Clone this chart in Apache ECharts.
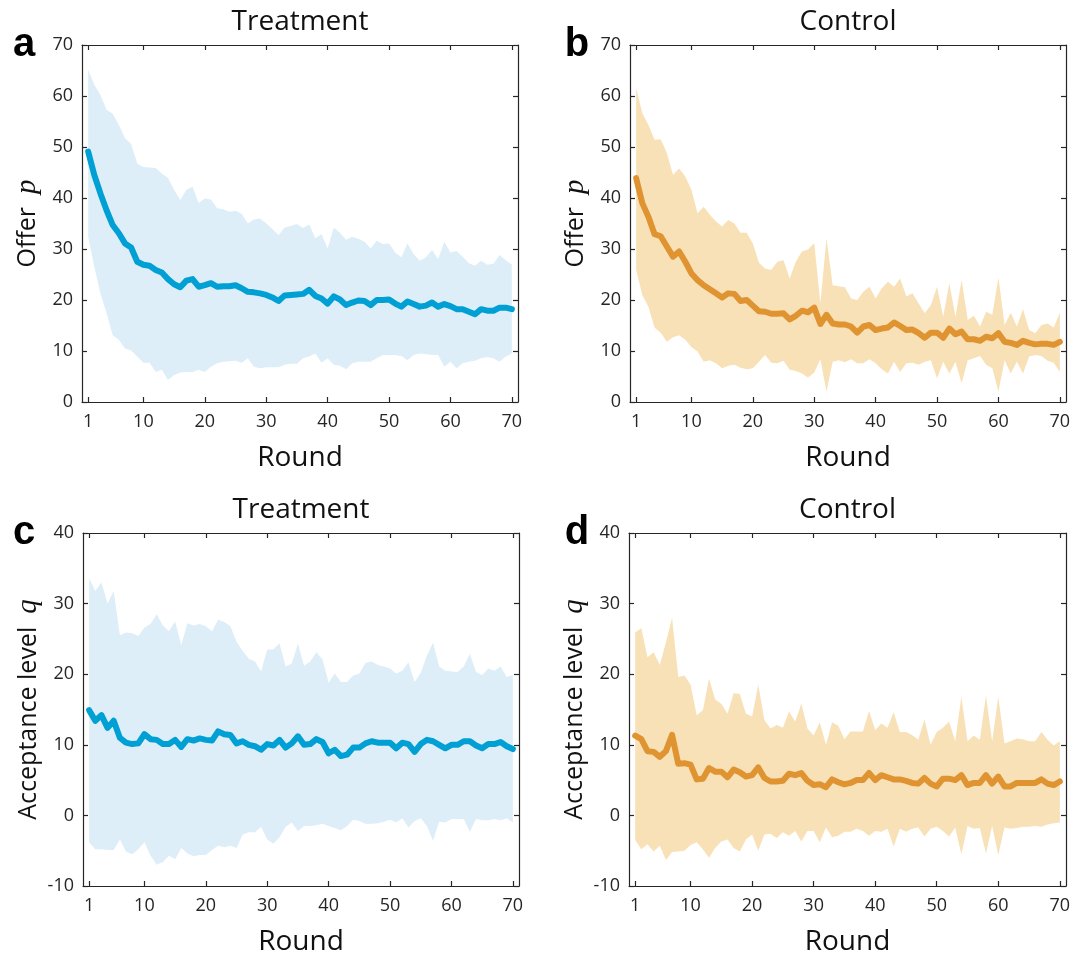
<!DOCTYPE html>
<html>
<head>
<meta charset="utf-8">
<title>Offers and acceptance levels by round</title>
<script src="https://cdn.jsdelivr.net/npm/echarts@6/dist/echarts.min.js"></script>
<style>
  html, body { margin: 0; padding: 0; background: #fff; }
  #chart { width: 1084px; height: 957px; }
</style>
</head>
<body>
<div id="chart"></div>
<script>
// Rounds 1..70 and the tick positions shown on every x axis
const rounds = Array.from({ length: 70 }, (_, i) => i + 1);
const roundTicks = [1, 10, 20, 30, 40, 50, 60, 70];

// Offer p, Treatment: mean and the shaded band (upper / lower)
const treatOfferMean = [
  49.1,44.5,40.9,37.6,34.7,33.1,31.1,30.3,27.5,26.9,
  26.7,25.9,25.4,24.1,23.1,22.5,23.8,24.1,22.6,22.9,
  23.3,22.6,22.7,22.7,22.9,22.3,21.6,21.5,21.3,21.0,
  20.5,19.8,20.9,21.0,21.1,21.2,22.0,20.8,20.3,19.3,
  20.7,20.1,19.0,19.5,19.9,19.8,19.0,20.0,20.0,20.1,
  19.3,18.7,19.7,19.2,18.7,18.9,19.5,18.7,19.2,18.8,
  18.2,18.2,17.7,17.2,18.2,17.9,17.9,18.5,18.5,18.2];
const treatOfferUpper = [
  65.2,62.2,60.2,57.3,56.5,54.3,51.7,50.6,46.7,46.1,
  46.0,45.9,44.8,43.9,41.6,39.6,41.6,42.2,39.0,39.9,
  39.7,38.0,37.8,37.3,37.5,36.9,35.0,35.8,36.0,35.0,
  33.9,32.7,34.2,34.5,34.9,34.1,34.8,32.1,32.9,30.1,
  34.2,33.2,31.8,32.4,32.0,31.4,30.1,31.6,31.0,31.1,
  29.3,28.4,31.1,29.0,27.7,28.4,29.8,28.0,31.4,29.3,
  29.6,28.5,27.2,26.7,27.7,26.9,27.1,28.8,27.8,26.9];
const treatOfferLower = [
  32.4,26.5,21.3,17.4,13.1,12.2,10.5,10.1,8.9,7.7,
  7.7,5.9,6.3,4.3,5.3,5.8,5.9,5.9,6.3,5.9,
  6.9,7.6,7.9,8.0,8.1,7.7,8.6,6.9,6.6,6.8,
  6.8,6.8,7.3,7.5,7.5,8.6,8.9,9.5,7.7,8.6,
  7.3,7.1,6.4,7.6,7.9,7.9,7.9,8.6,9.2,9.2,
  9.2,9.0,8.2,9.2,9.5,9.4,9.2,9.2,6.9,7.9,
  6.6,7.6,7.9,8.1,8.6,8.8,8.6,7.9,8.9,9.5];

// Offer p, Control
const ctrlOfferMean = [
  43.9,39.0,36.3,32.9,32.5,30.5,28.5,29.5,27.5,25.2,
  23.9,22.9,22.1,21.3,20.5,21.3,21.2,19.8,20.0,18.9,
  17.8,17.7,17.3,17.3,17.4,16.2,16.9,17.9,17.6,18.5,
  15.3,17.1,15.4,15.2,15.2,14.8,13.6,14.8,15.1,14.1,
  14.4,14.6,15.6,14.9,14.1,14.2,13.5,12.6,13.6,13.6,
  12.6,14.4,13.3,13.8,12.3,12.3,12.0,12.8,12.5,13.5,
  11.8,11.6,11.2,12.0,11.6,11.3,11.4,11.4,11.2,11.8];
const ctrlOfferUpper = [
  61.6,56.6,54.3,51.4,51.5,48.8,44.5,45.8,44.2,41.6,
  37.0,38.3,36.7,35.4,34.4,35.7,35.0,33.2,33.2,31.1,
  27.3,26.2,25.9,27.5,27.8,24.2,27.5,29.5,29.9,31.2,
  19.3,32.1,22.9,22.7,22.5,20.3,20.0,21.6,22.6,20.3,
  22.3,23.6,22.6,24.2,20.7,21.3,19.3,17.4,19.0,22.6,
  16.7,23.3,16.7,23.9,16.1,16.9,14.8,17.7,17.1,24.4,
  15.1,17.5,14.8,18.2,14.1,13.5,15.1,15.4,14.6,17.5];
const ctrlOfferLower = [
  26.0,21.0,18.7,14.6,13.6,11.8,12.7,13.1,12.2,10.8,
  9.9,7.9,8.2,7.6,6.6,7.1,7.3,6.7,6.4,6.6,
  7.9,9.2,7.7,7.6,8.1,6.3,6.1,5.6,4.8,5.8,
  8.4,2.0,7.9,8.2,7.8,8.4,7.6,7.6,8.4,7.6,
  6.4,5.6,7.9,5.9,7.6,7.7,7.3,7.9,8.2,4.6,
  7.9,5.6,7.9,3.7,8.2,8.6,9.0,7.3,6.6,2.0,
  8.2,5.6,7.9,5.6,8.9,9.2,9.0,8.1,7.7,5.9];

// Acceptance level q, Treatment
const treatAccMean = [
  14.9,13.4,14.2,12.4,13.4,11.0,10.3,10.1,10.2,11.5,
  10.8,10.7,10.1,10.1,10.7,9.7,10.8,10.6,10.9,10.7,
  10.6,11.9,11.5,11.4,10.2,10.5,10.0,9.8,9.3,10.1,
  9.9,10.7,9.6,10.2,11.2,10.0,10.1,10.8,10.4,8.8,
  9.3,8.4,8.6,9.6,9.6,10.2,10.5,10.3,10.3,10.3,
  9.5,10.3,10.1,9.0,10.1,10.7,10.5,10.0,9.5,10.0,
  10.0,10.5,10.5,9.9,9.5,10.1,10.1,10.4,9.8,9.4];
const treatAccUpper = [
  33.6,31.8,33.0,30.0,31.8,25.5,25.9,25.8,25.4,26.6,
  27.1,28.5,26.9,26.1,27.5,24.1,27.2,26.9,27.1,26.8,
  26.1,27.7,27.4,26.8,24.6,23.3,22.2,21.8,20.4,23.5,
  23.5,24.4,21.1,21.5,24.3,21.2,21.8,23.1,22.1,18.8,
  20.1,18.9,18.9,19.8,20.1,21.6,21.8,21.3,21.1,20.8,
  20.1,20.5,21.7,18.9,20.2,22.6,24.5,21.1,20.5,20.4,
  20.3,21.1,22.9,20.3,19.9,20.8,20.5,21.1,19.6,19.9];
const treatAccLower = [
  -3.8,-4.8,-4.8,-4.9,-4.9,-3.4,-5.1,-5.5,-4.8,-3.8,
  -5.7,-7.0,-6.6,-5.7,-6.2,-4.6,-5.4,-5.8,-5.6,-5.6,
  -4.9,-4.3,-4.5,-4.3,-4.6,-2.7,-2.4,-2.4,-1.6,-3.4,
  -4.0,-3.1,-1.6,-1.0,-2.2,-1.5,-1.5,-1.4,-1.2,-1.5,
  -1.8,-2.1,-1.5,-0.6,-0.8,-1.2,-1.2,-1.1,-0.9,-0.6,
  -1.0,-0.4,-1.7,-0.8,-0.4,-1.5,-3.6,-0.9,-1.0,-0.5,
  -0.5,-0.5,-2.3,-0.5,-0.7,-0.7,-0.5,-0.7,-0.4,-1.0];

// Acceptance level q, Control
const ctrlAccMean = [
  11.3,10.8,9.1,9.0,8.3,9.1,11.4,7.3,7.4,7.2,
  5.1,5.2,6.7,6.2,6.2,5.4,6.5,6.1,5.5,5.7,
  6.8,5.3,4.8,4.8,4.9,5.9,5.7,6.0,4.9,4.3,
  4.4,4.0,5.1,4.7,4.4,4.6,5.0,5.0,6.0,5.0,
  5.7,5.4,5.1,5.1,4.9,4.6,4.5,5.3,4.5,4.1,
  5.2,5.2,5.0,5.7,4.3,4.6,4.6,5.7,4.5,5.5,
  4.1,4.1,4.6,4.6,4.6,4.6,5.1,4.5,4.3,4.8];
const ctrlAccUpper = [
  25.9,26.5,22.4,23.1,21.3,24.5,28.0,19.6,19.8,18.5,
  14.2,14.9,19.4,16.4,15.8,14.4,17.3,17.2,14.4,14.0,
  18.5,13.5,12.3,12.8,12.4,14.7,13.3,15.8,12.3,11.3,
  13.2,10.0,13.2,12.7,10.8,11.9,11.9,11.9,14.8,12.1,
  13.0,12.4,14.6,11.8,11.8,11.4,10.7,13.6,10.0,11.8,
  12.4,13.3,10.5,16.8,10.5,11.3,10.7,17.0,10.5,16.8,
  10.2,10.5,10.9,10.8,10.5,10.5,11.8,10.7,9.9,10.5];
const ctrlAccLower = [
  -3.5,-4.8,-4.1,-5.1,-4.3,-6.3,-5.2,-5.1,-5.0,-4.2,
  -3.8,-4.8,-6.0,-4.6,-3.7,-3.4,-4.6,-5.1,-3.4,-2.7,
  -5.0,-2.7,-2.6,-3.2,-2.4,-2.9,-2.2,-3.7,-2.2,-2.2,
  -3.8,-1.7,-3.1,-2.9,-2.3,-2.3,-1.9,-2.2,-2.9,-2.2,
  -2.3,-1.9,-4.4,-1.9,-2.3,-1.9,-1.7,-3.0,-1.9,-1.6,
  -2.2,-3.0,-1.7,-5.5,-1.5,-1.9,-1.8,-5.4,-1.5,-5.6,
  -1.7,-1.9,-1.8,-1.6,-1.6,-1.5,-1.6,-1.3,-1.1,-1.0];

// Panel titles, letters and y-axis labels
const panelTitles = ['Treatment', 'Control', 'Treatment', 'Control'];
const panelLetters = ['a', 'b', 'c', 'd'];
const yNames = ['Offer', 'Offer', 'Acceptance level', 'Acceptance level'];
const ySymbols = ['p', 'p', 'q', 'q'];

// ---- styling and layout ----
const FONT = '"Open Sans", "Noto Sans", sans-serif';
const AXIS_COLOR = '#262626';
const BLUE = '#009fd4';
const BLUE_BAND = '#ddeef8';
const ORANGE = '#df9431';
const ORANGE_BAND = '#f8e1b6';

const panels = [
  { mean: treatOfferMean, upper: treatOfferUpper, lower: treatOfferLower,
    color: BLUE, band: BLUE_BAND, yMin: 0, yMax: 70,
    grid: { left: 82, top: 45, width: 436, height: 357 } },
  { mean: ctrlOfferMean, upper: ctrlOfferUpper, lower: ctrlOfferLower,
    color: ORANGE, band: ORANGE_BAND, yMin: 0, yMax: 70,
    grid: { left: 630, top: 45, width: 436, height: 357 } },
  { mean: treatAccMean, upper: treatAccUpper, lower: treatAccLower,
    color: BLUE, band: BLUE_BAND, yMin: -10, yMax: 40,
    grid: { left: 83, top: 533, width: 436, height: 356 } },
  { mean: ctrlAccMean, upper: ctrlAccUpper, lower: ctrlAccLower,
    color: ORANGE, band: ORANGE_BAND, yMin: -10, yMax: 40,
    grid: { left: 629, top: 533, width: 437, height: 356 } }
];

const grids = [], xAxes = [], yAxes = [], series = [], graphics = [];

const lineStyle = { color: AXIS_COLOR, width: 1.2 };
const tickStyle = { color: AXIS_COLOR, width: 1.2 };

// Band polygon: upper bound left-to-right, then lower bound right-to-left,
// every vertex placed through the axis scales with api.coord.
function bandRenderer(p) {
  return function (params, api) {
    if (params.dataIndex !== 0) return null;
    const pts = [];
    for (let i = 0; i < rounds.length; i++) pts.push(api.coord([rounds[i], p.upper[i]]));
    for (let i = rounds.length - 1; i >= 0; i--) pts.push(api.coord([rounds[i], p.lower[i]]));
    return {
      type: 'polygon',
      shape: { points: pts },
      style: { fill: p.band, stroke: null }
    };
  };
}

panels.forEach((p, k) => {
  grids.push(Object.assign({ containLabel: false }, p.grid));

  // bottom x axis with labels and name, top x axis with ticks only
  xAxes.push({
    gridIndex: k, type: 'value', min: 0, max: 71, position: 'bottom',
    axisLine: { show: true, onZero: false, lineStyle },
    axisTick: { show: true, inside: true, length: 5, customValues: roundTicks, lineStyle: tickStyle },
    axisLabel: { customValues: roundTicks, fontSize: 18, fontFamily: FONT, color: AXIS_COLOR, margin: 11 },
    splitLine: { show: false },
    name: 'Round', nameLocation: 'middle', nameGap: 42,
    nameTextStyle: { fontSize: 28, fontFamily: FONT, color: '#111' }
  });
  xAxes.push({
    gridIndex: k, type: 'value', min: 0, max: 71, position: 'top',
    axisLine: { show: true, onZero: false, lineStyle },
    axisTick: { show: true, inside: true, length: 5, customValues: roundTicks, lineStyle: tickStyle },
    axisLabel: { show: false },
    splitLine: { show: false }
  });

  // left y axis with labels and name, right y axis with ticks only
  yAxes.push({
    gridIndex: k, type: 'value', min: p.yMin, max: p.yMax, interval: 10, position: 'left',
    axisLine: { show: true, onZero: false, lineStyle },
    axisTick: { show: true, inside: true, length: 5, lineStyle: tickStyle },
    axisLabel: { fontSize: 18, fontFamily: FONT, color: AXIS_COLOR, margin: 9 },
    splitLine: { show: false },
    name: yNames[k] + '  {s|' + ySymbols[k] + '}',
    nameLocation: 'middle', nameGap: 40,
    nameTextStyle: {
      fontSize: 25, fontFamily: FONT, color: '#111',
      rich: { s: { fontSize: 29, fontFamily: '"Liberation Serif", "DejaVu Serif", serif', fontStyle: 'italic', color: '#111' } }
    }
  });
  yAxes.push({
    gridIndex: k, type: 'value', min: p.yMin, max: p.yMax, interval: 10, position: 'right',
    axisLine: { show: true, onZero: false, lineStyle },
    axisTick: { show: true, inside: true, length: 5, lineStyle: tickStyle },
    axisLabel: { show: false },
    splitLine: { show: false }
  });

  const xi = k * 2, yi = k * 2;
  // shaded band between lower and upper bounds
  series.push({
    type: 'custom', xAxisIndex: xi, yAxisIndex: yi,
    data: rounds.map((r, i) => [r, p.lower[i], p.upper[i]]),
    encode: { x: 0, y: [1, 2] },
    renderItem: bandRenderer(p),
    silent: true, z: 1
  });
  // mean curve
  series.push({
    type: 'line', xAxisIndex: xi, yAxisIndex: yi,
    data: rounds.map((r, i) => [r, p.mean[i]]),
    symbol: 'none', silent: true,
    lineStyle: { color: p.color, width: 6, join: 'round', cap: 'round' }, z: 3
  });

  // panel title and bold panel letter
  const cx = p.grid.left + p.grid.width / 2;
  graphics.push({
    type: 'text', x: cx, y: p.grid.top - 23,
    style: { text: panelTitles[k], textAlign: 'center', textVerticalAlign: 'middle',
             font: '28px ' + FONT, fill: '#111' }
  });
  graphics.push({
    type: 'text', x: k % 2 === 0 ? 24 : 577, y: p.grid.top,
    style: { text: panelLetters[k], textAlign: 'center', textVerticalAlign: 'middle',
             font: 'bold 40px "Liberation Sans", Arial, sans-serif', fill: '#000' }
  });
});

const chart = echarts.init(document.getElementById('chart'), null, { renderer: 'canvas' });
chart.setOption({
  animation: false,
  backgroundColor: '#fff',
  grid: grids,
  xAxis: xAxes,
  yAxis: yAxes,
  series: series,
  graphic: graphics
});
</script>
</body>
</html>
